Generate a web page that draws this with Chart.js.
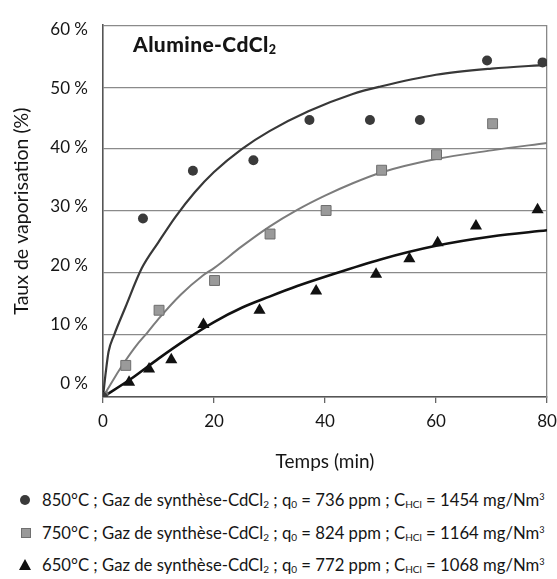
<!DOCTYPE html>
<html>
<head>
<meta charset="utf-8">
<script src="https://cdn.jsdelivr.net/npm/chart.js@4/dist/chart.umd.min.js"></script>
<style>
  body { margin: 0; background: #fff; font-family: Lato, "Open Sans", sans-serif; color: #151515; }
  #wrap { position: relative; width: 557px; height: 579px; }
  #chartBox { position: absolute; left: 0; top: 0; width: 557px; height: 480px; }
  #plotTitle { position: absolute; left: 133px; top: 33px; font-weight: 900; font-size: 21px; line-height: 22px; letter-spacing: 0.4px; }
  #legend { position: absolute; left: 0; top: 484px; width: 557px; font-size: 16.7px; }
  .row { position: relative; height: 32.5px; line-height: 32px; padding-left: 42px; white-space: nowrap; }
  .mk { position: absolute; }
  .circle { left: 20px; top: 11px; width: 10px; height: 10px; border-radius: 50%; background: #3a3a3a; }
  .square { left: 21px; top: 11px; width: 8px; height: 8px; background: #9a9a9a; border: 1px solid #707070; }
  .triangle { left: 19px; top: 10px; width: 0; height: 0; border-left: 6.5px solid transparent; border-right: 6.5px solid transparent; border-bottom: 11px solid #111; }
  sub { font-size: 60%; vertical-align: -0.15em; line-height: 0; }
  sup { font-size: 55%; vertical-align: 0.7em; line-height: 0; }
</style>
</head>
<body>
<div id="wrap">
  <div id="chartBox"><canvas id="chart"></canvas></div>
  <div id="plotTitle">Alumine-CdCl<sub>2</sub></div>
  <div id="legend"></div>
</div>
<script>
// measured points
const timesHot = [0, 7.2, 16.2, 27.1, 37.2, 48.1, 57.1, 69.2, 79.2];
const valuesHot = [0, 28.8, 36.5, 38.2, 44.7, 44.7, 44.7, 54.3, 54.0];
const timesMid = [0, 4.1, 10.1, 20.1, 30.1, 40.2, 50.2, 60.1, 70.2];
const valuesMid = [0, 5.1, 14.0, 18.8, 26.3, 30.1, 36.6, 39.1, 44.1];
const timesLow = [0, 4.7, 8.3, 12.3, 18.1, 28.2, 38.4, 49.2, 55.2, 60.3, 67.2, 78.3];
const valuesLow = [0, 2.4, 4.5, 6.0, 11.7, 14.0, 17.1, 19.8, 22.3, 24.9, 27.6, 30.2];

// model curves
const fitTimesHot = [0, 0.5, 1, 2, 4, 7, 10, 13, 16.5, 20, 25, 30, 37, 45, 50, 60, 70, 80];
const fitHot = [0, 4, 7.3, 10, 14.4, 20.8, 25, 29, 33, 36.3, 40, 42.9, 46.1, 48.9, 50.1, 52, 53, 53.6];
const fitTimesMid = [0, 2, 4, 6, 8, 10, 14, 18, 20, 25, 30, 35, 40, 45, 50, 60, 70, 80];
const fitMid = [0, 3, 5.8, 8.3, 10.4, 12.6, 16.5, 19.6, 20.8, 24.3, 27.5, 30.2, 32.5, 34.5, 36.2, 38.4, 39.8, 41];
const fitTimesLow = [0, 5, 10, 15, 20, 25, 30, 35, 40, 50, 60, 70, 80];
const fitLow = [0, 2.9, 6.2, 9.3, 12.1, 14.4, 16.2, 17.9, 19.4, 22.2, 24.4, 25.9, 26.9];

const yTickValues = [0, 10, 20, 30, 40, 50, 60];
const xTickValues = [0, 20, 40, 60, 80];

// legend text
const legendTemps = ["850", "750", "650"];
const legendQ0 = ["736", "824", "772"];
const legendCHCl = ["1454", "1164", "1068"];
const legendMarkers = ["circle", "square", "triangle"];

const FONT = "Lato, 'Open Sans', sans-serif";
const pts = (xs, ys) => xs.map((x, i) => ({ x: x, y: ys[i] }));

function curve(xs, ys, color, width) {
  return {
    data: pts(xs, ys),
    showLine: true,
    borderColor: color,
    borderWidth: width,
    pointRadius: 0,
    cubicInterpolationMode: "monotone",
    fill: false,
    order: 1
  };
}

const ctx = document.getElementById("chart").getContext("2d");
new Chart(ctx, {
  type: "scatter",
  data: {
    datasets: [
      curve(fitTimesHot, fitHot, "#383838", 2.2),
      curve(fitTimesMid, fitMid, "#7c7c7c", 2),
      curve(fitTimesLow, fitLow, "#111111", 2.6),
      {
        data: pts(timesHot, valuesHot),
        pointStyle: "circle",
        pointRadius: 5,
        backgroundColor: "#3a3a3a",
        borderColor: "#3a3a3a",
        borderWidth: 0,
        order: 0
      },
      {
        data: pts(timesLow, valuesLow),
        pointStyle: "triangle",
        pointRadius: 7,
        backgroundColor: "#111111",
        borderColor: "#111111",
        borderWidth: 0,
        order: 0
      },
      {
        data: pts(timesMid, valuesMid),
        pointStyle: "rect",
        pointRadius: 7,
        backgroundColor: "#9a9a9a",
        borderColor: "#6e6e6e",
        borderWidth: 1,
        order: 0
      }
    ]
  },
  options: {
    responsive: true,
    maintainAspectRatio: false,
    animation: false,
    layout: { padding: { top: 12, right: 10, left: 0, bottom: 0 } },
    plugins: { legend: { display: false }, tooltip: { enabled: false } },
    scales: {
      x: {
        type: "linear",
        min: 0,
        max: 80,
        afterBuildTicks: s => { s.ticks = xTickValues.map(v => ({ value: v })); },
        ticks: { font: { family: FONT, size: 17 }, color: "#151515", padding: 8 },
        grid: { drawOnChartArea: false, tickLength: 6, color: "#666", lineWidth: 1.3 },
        border: { color: "#555", width: 1.6 },
        title: { display: true, text: "Temps (min)", font: { family: FONT, size: 19 }, color: "#151515", padding: { top: 0, bottom: 7 } },
        afterFit: s => { s.height = 83; s.paddingLeft = 0; s.paddingRight = 0; }
      },
      y: {
        min: 0,
        max: 60,
        weight: 0,
        afterBuildTicks: s => { s.ticks = yTickValues.map(v => ({ value: v })); },
        ticks: { display: false },
        grid: { color: "#8a8a8a", lineWidth: 1.3, drawTicks: false },
        border: { color: "#555", width: 1.6 },
        afterFit: s => { s.width = 0; }
      },
      yl: {
        position: "left",
        min: -2.3,
        max: 60.8,
        weight: 1,
        afterBuildTicks: s => { s.ticks = yTickValues.map(v => ({ value: v })); },
        ticks: { font: { family: FONT, size: 17 }, color: "#151515", padding: 15, callback: v => v + " %" },
        grid: { display: false, drawTicks: false },
        border: { display: false },
        title: { display: true, text: "Taux de vaporisation (%)", font: { family: FONT, size: 19.5 }, color: "#151515", padding: { top: 10, bottom: 0 } },
        afterFit: s => { s.width = 103; }
      },
      yr: {
        position: "right",
        min: 0,
        max: 60,
        ticks: { display: false },
        grid: { display: false, drawTicks: false },
        border: { color: "#888", width: 1.3 },
        afterFit: s => { s.width = 0; s.paddingTop = 0; s.paddingBottom = 0; }
      }
    }
  }
});

// html legend (needs sub/superscripts)
const legendEl = document.getElementById("legend");
legendTemps.forEach((t, i) => {
  const row = document.createElement("div");
  row.className = "row";
  row.innerHTML = `<span class="mk ${legendMarkers[i]}"></span>${t}°C ; Gaz de synthèse-CdCl<sub>2</sub> ; q<sub>0</sub> = ${legendQ0[i]} ppm ; C<sub>HCl</sub> = ${legendCHCl[i]} mg/Nm<sup>3</sup>`;
  legendEl.appendChild(row);
});
</script>
</body>
</html>
